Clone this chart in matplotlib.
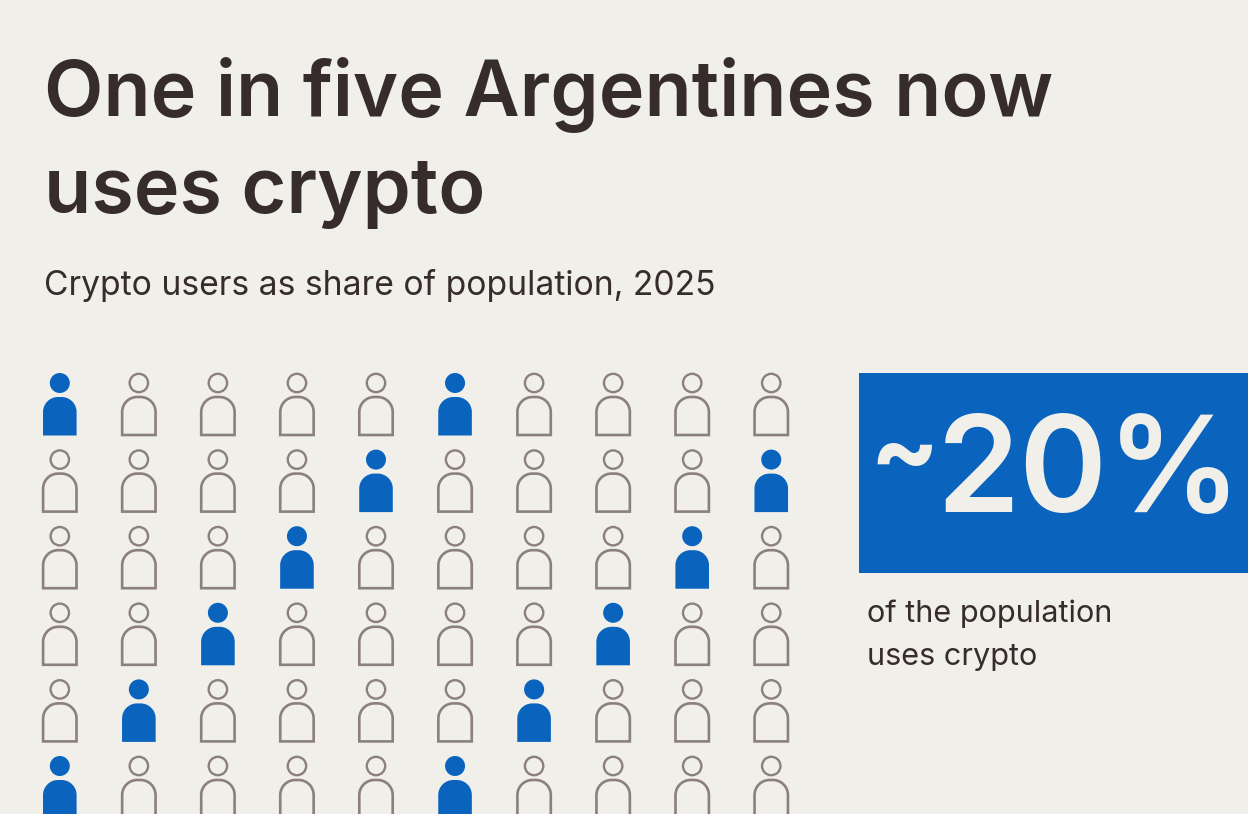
"""Icon grid: one in five Argentines uses crypto."""
import matplotlib
matplotlib.use('Agg')
import matplotlib.pyplot as plt
from matplotlib.patches import Circle, PathPatch, Rectangle
from matplotlib.path import Path

# data
title_lines = ['One in five Argentines now', 'uses crypto']
subtitle = 'Crypto users as share of population, 2025'
big_prefix = '~'
big_value = '20%'
note_lines = ['of the population', 'uses crypto']
n_cols = 10
n_rows = 6
# which columns hold a filled figure, one list per row
filled_by_row = [[0, 5], [4, 9], [3, 8], [2, 7], [1, 6], [0, 5]]

BG = '#F0EFEA'
BLUE = '#0A64BE'
GREY = '#8B807C'
DARK = '#362C2B'
FONT = ['Inter', 'DejaVu Sans']

fig = plt.figure(figsize=(12.48, 8.14), dpi=100)
fig.patch.set_facecolor(BG)
ax = fig.add_axes([0, 0, 1, 1])
ax.set_xlim(0, 1248)
ax.set_ylim(814, 0)
ax.axis('off')


def body_path(cx, top, half_w, h, r):
    k = 0.5523 * r
    left, right = cx - half_w, cx + half_w
    bottom = top + h
    verts = [(left, bottom), (left, top + r),
             (left, top + r - k), (left + r - k, top), (left + r, top),
             (right - r, top),
             (right - r + k, top), (right, top + r - k), (right, top + r),
             (right, bottom), (left, bottom)]
    codes = [Path.MOVETO, Path.LINETO,
             Path.CURVE4, Path.CURVE4, Path.CURVE4,
             Path.LINETO,
             Path.CURVE4, Path.CURVE4, Path.CURVE4,
             Path.LINETO, Path.CLOSEPOLY]
    return Path(verts, codes)


def person(col, row, on):
    cx = 59.8 + col * 79.05
    cy = 383 + row * 76.6
    if on:
        ax.add_patch(Circle((cx, cy), 10, fc=BLUE, ec='none'))
        ax.add_patch(PathPatch(body_path(cx, cy + 14, 16.8, 38.5, 15), fc=BLUE, ec='none'))
    else:
        ax.add_patch(Circle((cx, cy), 9.2, fc='none', ec=GREY, lw=1.7))
        ax.add_patch(PathPatch(body_path(cx, cy + 14, 16.7, 38, 15), fc='none', ec=GREY, lw=1.9))


for row in range(n_rows):
    for col in range(n_cols):
        person(col, row, col in filled_by_row[row])

# title block
for line, y in zip(title_lines, [116, 213]):
    ax.text(44, y, line, fontsize=55.6, fontweight='semibold', color=DARK,
            family=FONT, ha='left', va='baseline')
ax.text(43.5, 295, subtitle, fontsize=24.2, color=DARK, family=FONT,
        ha='left', va='baseline')

# callout
ax.add_patch(Rectangle((859, 373), 389, 200, fc=BLUE, ec='none'))
ax.text(869, 485, big_prefix, fontsize=74, fontweight='bold', color=BG,
        family=FONT, ha='left', va='baseline')
ax.text(937, 512, big_value, fontsize=96, fontweight='semibold', color=BG,
        family=FONT, ha='left', va='baseline')
for line, y in zip(note_lines, [622, 665]):
    ax.text(867, y, line, fontsize=22.1, color=DARK, family=FONT,
            ha='left', va='baseline')

fig.savefig('out.png', dpi=100, facecolor=BG)
plt.close(fig)
